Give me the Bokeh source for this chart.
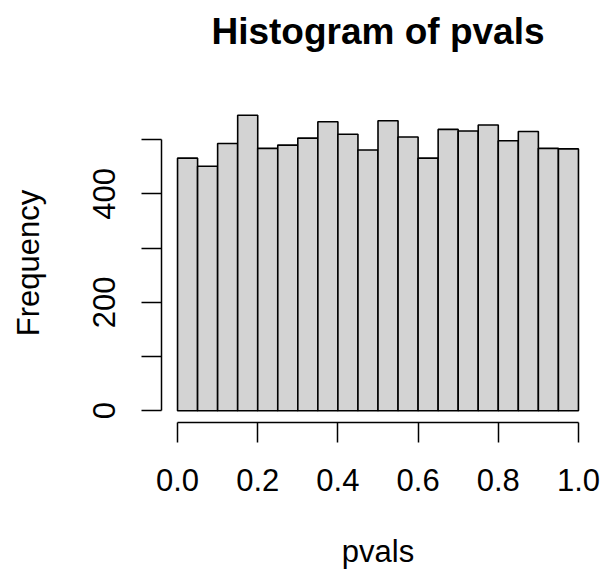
from bokeh.plotting import figure
from bokeh.models import Range1d, FixedTicker, NumeralTickFormatter, Title
from bokeh.embed import file_html
from bokeh.resources import INLINE

# Histogram data (bin edges and counts)
bin_left = [0.00, 0.05, 0.10, 0.15, 0.20, 0.25, 0.30, 0.35, 0.40, 0.45,
            0.50, 0.55, 0.60, 0.65, 0.70, 0.75, 0.80, 0.85, 0.90, 0.95]
bin_right = [0.05, 0.10, 0.15, 0.20, 0.25, 0.30, 0.35, 0.40, 0.45, 0.50,
             0.55, 0.60, 0.65, 0.70, 0.75, 0.80, 0.85, 0.90, 0.95, 1.00]
counts = [466, 451, 493, 545, 484, 490, 503, 533, 510, 481,
          535, 505, 466, 519, 516, 527, 498, 515, 484, 483]

x_ticks = [0.0, 0.2, 0.4, 0.6, 0.8, 1.0]
y_ticks = [0, 100, 200, 300, 400, 500]
y_hidden = [100, 300, 500]

title_text = "Histogram of pvals"
x_label = "pvals"
y_label = "Frequency"

FONT = "Liberation Sans"

p = figure(frame_width=433, frame_height=319, output_backend="svg",
           toolbar_location=None, title=None,
           x_range=Range1d(-0.04, 1.04), y_range=Range1d(-21.8, 566.8),
           min_border_left=161, min_border_right=9, min_border_top=103,
           min_border_bottom=154)
p.outline_line_color = None
p.grid.visible = False
p.background_fill_color = "white"
p.border_fill_color = "white"

p.quad(left=bin_left, right=bin_right, bottom=0, top=counts,
       fill_color="#D3D3D3", line_color="black", line_width=1.6)

for ax in (p.xaxis[0], p.yaxis[0]):
    ax.axis_line_width = 1.5
    ax.major_tick_line_width = 1.5
    ax.major_tick_out = 20
    ax.major_tick_in = 0
    ax.minor_tick_out = 0
    ax.minor_tick_in = 0
    ax.major_label_text_font = FONT
    ax.major_label_text_font_size = "31px"
    ax.major_label_text_color = "black"
    ax.axis_label_text_font = FONT
    ax.axis_label_text_font_size = "31px"
    ax.axis_label_text_font_style = "normal"
    ax.axis_label_text_color = "black"

xa = p.xaxis[0]
xa.ticker = FixedTicker(ticks=x_ticks)
xa.formatter = NumeralTickFormatter(format="0.0")
xa.bounds = (0, 1)
xa.major_label_standoff = 26
xa.axis_label = x_label
xa.axis_label_standoff = 40

ya = p.yaxis[0]
ya.ticker = FixedTicker(ticks=y_ticks)
ya.major_label_overrides = {v: "" for v in y_hidden}
ya.bounds = (0, 500)
ya.major_label_orientation = "vertical"
ya.major_label_standoff = 26
ya.axis_label = y_label
ya.axis_label_standoff = 45

# spacer (nearest the frame) then the real title above it
p.add_layout(Title(text=" ", text_font_size="2px", standoff=46), "above")
p.add_layout(Title(text=title_text, text_font=FONT, text_font_style="bold",
                   text_font_size="37px", text_color="black",
                   align="center", standoff=4), "above")

open("out.html", "w").write(file_html(p, INLINE))
